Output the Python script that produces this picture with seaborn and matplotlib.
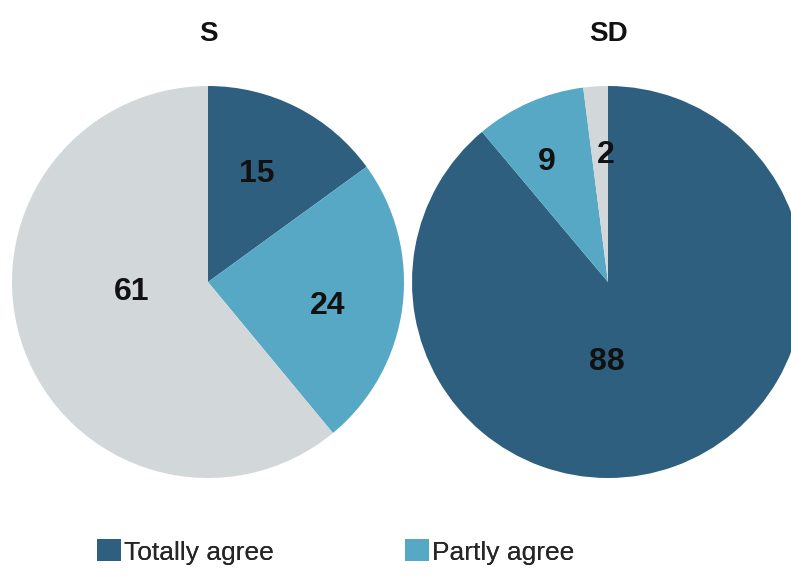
import matplotlib
matplotlib.use("Agg")
import matplotlib.pyplot as plt
from matplotlib.patches import Patch
import seaborn as sns

# Survey shares (%) per group
groups = ["S", "SD"]
categories = ["Totally agree", "Partly agree", "Other"]
s_values = [15, 24, 61]
sd_values = [88, 9, 2]

# Label placement inside each pie (radius units, pie centred at 0,0)
s_label_pos = [(0.25, 0.55), (0.61, -0.12), (-0.39, -0.05)]
sd_label_pos = [(-0.005, -0.41), (-0.31, 0.61), (-0.01, 0.65)]

sns.set_theme(style="white")
palette = sns.color_palette(["#2e5f7e", "#57a8c4", "#d2d8da"])
plt.rcParams["font.family"] = ["Liberation Sans", "DejaVu Sans"]

fig = plt.figure(figsize=(7.91, 5.78), dpi=100)
W, H = 791, 578
r_px = 196
axes = [
    fig.add_axes([(208 - r_px) / W, (296 - r_px) / H, 2 * r_px / W, 2 * r_px / H]),
    fig.add_axes([(608 - r_px) / W, (296 - r_px) / H, 2 * r_px / W, 2 * r_px / H]),
]

for ax, title, values, label_pos in zip(
    axes, groups, [s_values, sd_values], [s_label_pos, sd_label_pos]
):
    ax.pie(values, colors=palette, startangle=90, counterclock=False,
           radius=1.0, wedgeprops=dict(linewidth=0))
    for v, (x, y) in zip(values, label_pos):
        ax.text(x, y, str(v), ha="center", va="center", fontsize=23,
                fontweight="bold", color="#111111")
    ax.set_xlim(-1, 1)
    ax.set_ylim(-1, 1)
    ax.set_aspect("equal")
    ax.axis("off")
    ax.set_clip_on(False)

fig.text(208 / W, 1 - 34 / H, groups[0], ha="center", va="center",
         fontsize=20, fontweight="bold", color="#111111")
fig.text(608 / W, 1 - 34 / H, groups[1], ha="center", va="center",
         fontsize=20, fontweight="bold", color="#111111")

for i, x_px in zip([0, 1], [97, 405]):
    leg = fig.legend(
        handles=[Patch(facecolor=palette[i], edgecolor="none", label=categories[i])],
        loc="center left", bbox_to_anchor=(x_px / W, 1 - 552 / H),
        frameon=False, borderpad=0, borderaxespad=0,
        handlelength=0.9, handleheight=0.9, handletextpad=0.12,
        prop=dict(size=19),
    )
    fig.add_artist(leg)

fig.savefig("out.png", dpi=100)
